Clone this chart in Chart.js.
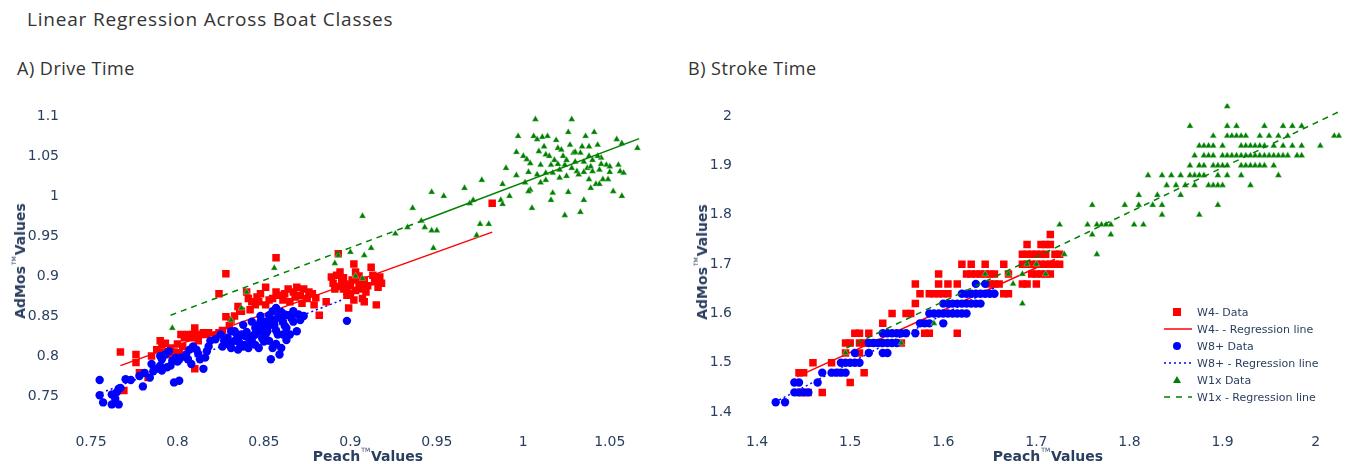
<!DOCTYPE html>
<html>
<head>
<meta charset="utf-8">
<script src="https://cdn.jsdelivr.net/npm/chart.js@4.4.0/dist/chart.umd.min.js"></script>
<style>
body{margin:0;width:1347px;height:464px;background:#fff;position:relative;overflow:hidden;font-family:"DejaVu Sans",sans-serif;color:#2a3f5f}
.abs{position:absolute;white-space:nowrap}
#title{left:27px;top:6px;font-size:19px;letter-spacing:0.8px;font-family:"Open Sans",sans-serif;color:#333}
.sub{top:56px;font-size:18px;letter-spacing:0.5px;font-family:"Open Sans",sans-serif;color:#333}
canvas{position:absolute;top:90px}
.axt{font-weight:bold;font-size:14px;transform:translate(-50%,-50%)}
.axt sup{font-size:6px;font-weight:normal;vertical-align:9px;margin:0 -4px 0 1px}
.yt{transform:translate(-50%,-50%) rotate(-90deg)}
.leg{font-size:11px;height:17px;line-height:17px;left:1163px}
.leg svg{position:absolute;left:0;top:2px}
.leg span{position:absolute;left:34px}
</style>
</head>
<body>
<div class="abs" id="title">Linear Regression Across Boat Classes</div>
<div class="abs sub" style="left:17px">A) Drive Time</div>
<div class="abs sub" style="left:688px">B) Stroke Time</div>

<canvas id="drive" width="670" height="374" style="left:0"></canvas>
<canvas id="stroke" width="677" height="374" style="left:670px"></canvas>

<div class="abs axt" style="left:368px;top:455px">Peach<sup>TM</sup> Values</div>
<div class="abs axt yt" style="left:19px;top:261px">AdMos<sup>TM</sup> Values</div>
<div class="abs axt" style="left:1048px;top:455px">Peach<sup>TM</sup> Values</div>
<div class="abs axt yt" style="left:701px;top:262px">AdMos<sup>TM</sup> Values</div>

<div id="legend"></div>

<script>
// tick labels
var driveXTicks = [0.75, 0.8, 0.85, 0.9, 0.95, 1, 1.05];
var driveYTicks = [0.75, 0.8, 0.85, 0.9, 0.95, 1, 1.05, 1.1];
var strokeXTicks = [1.4, 1.5, 1.6, 1.7, 1.8, 1.9, 2];
var strokeYTicks = [1.4, 1.5, 1.6, 1.7, 1.8, 1.9, 2];

// series names
var seriesNames = ['W4- Data', 'W4- - Regression line', 'W8+ Data', 'W8+ - Regression line', 'W1x Data', 'W1x - Regression line'];

// A) Drive Time - [peach, admos]
var driveW4 = [[0.767,0.805],[0.776,0.802],[0.776,0.792],[0.778,0.779],[0.783,0.773],[0.769,0.757],[0.788,0.808],[0.790,0.819],[0.791,0.814],[0.793,0.816],[0.796,0.810],[0.798,0.798],[0.801,0.804],[0.802,0.827],[0.804,0.823],[0.806,0.827],[0.808,0.823],[0.809,0.827],[0.810,0.835],[0.811,0.825],[0.813,0.827],[0.815,0.829],[0.817,0.827],[0.818,0.829],[0.824,0.829],[0.824,0.878],[0.828,0.903],[0.828,0.849],[0.831,0.845],[0.835,0.862],[0.837,0.856],[0.840,0.880],[0.841,0.872],[0.843,0.868],[0.845,0.864],[0.847,0.868],[0.851,0.886],[0.851,0.864],[0.855,0.872],[0.857,0.923],[0.859,0.876],[0.862,0.878],[0.864,0.884],[0.865,0.868],[0.867,0.880],[0.869,0.886],[0.871,0.876],[0.873,0.884],[0.875,0.872],[0.878,0.878],[0.879,0.864],[0.882,0.851],[0.886,0.868],[0.889,0.899],[0.890,0.891],[0.891,0.884],[0.892,0.901],[0.893,0.928],[0.894,0.905],[0.895,0.893],[0.896,0.884],[0.898,0.876],[0.899,0.860],[0.900,0.888],[0.902,0.915],[0.903,0.905],[0.904,0.897],[0.905,0.888],[0.906,0.884],[0.907,0.872],[0.908,0.868],[0.910,0.888],[0.912,0.911],[0.913,0.901],[0.914,0.893],[0.915,0.864],[0.916,0.886],[0.917,0.899],[0.918,0.891],[0.810,0.784],[0.798,0.805],[0.795,0.802],[0.982,0.991],[0.897,0.890],[0.901,0.895],[0.903,0.882],[0.898,0.880],[0.905,0.900],[0.908,0.895],[0.893,0.887],[0.900,0.878],[0.906,0.892],[0.909,0.880],[0.896,0.898],[0.902,0.870],[0.822,0.826],[0.826,0.832],[0.830,0.838],[0.833,0.850],[0.836,0.857],[0.842,0.858],[0.846,0.874],[0.848,0.878],[0.853,0.870],[0.857,0.880],[0.861,0.870],[0.868,0.874],[0.872,0.866],[0.876,0.880],[0.880,0.873],[0.785,0.800],[0.792,0.805],[0.800,0.815],[0.803,0.812],[0.812,0.819]];
var driveW8 = [[0.755,0.770],[0.755,0.751],[0.757,0.742],[0.762,0.7395],[0.766,0.7395],[0.764,0.7465],[0.765,0.755],[0.767,0.760],[0.770,0.771],[0.766,0.759],[0.780,0.762],[0.781,0.779],[0.784,0.773],[0.786,0.781],[0.788,0.784],[0.790,0.788],[0.791,0.796],[0.793,0.802],[0.795,0.806],[0.796,0.788],[0.798,0.767],[0.801,0.769],[0.791,0.782],[0.794,0.786],[0.797,0.794],[0.799,0.798],[0.802,0.798],[0.805,0.802],[0.807,0.808],[0.808,0.790],[0.809,0.812],[0.811,0.808],[0.813,0.796],[0.815,0.784],[0.817,0.806],[0.818,0.812],[0.819,0.819],[0.822,0.821],[0.831,0.816],[0.831,0.810],[0.833,0.819],[0.835,0.808],[0.837,0.827],[0.839,0.814],[0.841,0.810],[0.843,0.819],[0.845,0.827],[0.847,0.831],[0.849,0.835],[0.851,0.843],[0.853,0.851],[0.855,0.856],[0.857,0.860],[0.859,0.851],[0.861,0.843],[0.863,0.835],[0.865,0.827],[0.867,0.856],[0.869,0.831],[0.851,0.827],[0.853,0.819],[0.855,0.810],[0.854,0.796],[0.859,0.802],[0.860,0.810],[0.847,0.810],[0.841,0.823],[0.838,0.839],[0.843,0.843],[0.845,0.835],[0.848,0.843],[0.850,0.827],[0.852,0.831],[0.856,0.843],[0.858,0.827],[0.861,0.827],[0.864,0.851],[0.867,0.843],[0.871,0.845],[0.898,0.844],[0.845,0.814],[0.836,0.816],[0.839,0.825],[0.825,0.827],[0.831,0.831],[0.833,0.831],[0.829,0.823],[0.827,0.819],[0.835,0.822],[0.840,0.830],[0.844,0.826],[0.846,0.838],[0.849,0.822],[0.852,0.836],[0.854,0.846],[0.856,0.838],[0.858,0.848],[0.860,0.855],[0.862,0.852],[0.857,0.832],[0.850,0.818],[0.842,0.815],[0.838,0.812],[0.862,0.838],[0.866,0.848],[0.870,0.852],[0.873,0.850],[0.826,0.812],[0.829,0.815],[0.834,0.828],[0.848,0.850],[0.853,0.840],[0.863,0.820],[0.857,0.815],[0.790,0.800],[0.800,0.793],[0.806,0.796],[0.812,0.803],[0.816,0.798],[0.785,0.790],[0.778,0.775],[0.773,0.770],[0.762,0.752]];
var driveW1x = [[0.797,0.835],[0.831,0.845],[0.837,0.860],[0.840,0.880],[0.856,0.910],[0.891,0.916],[0.893,0.926],[0.900,0.930],[0.907,0.975],[0.908,0.926],[0.912,0.935],[0.903,0.900],[0.907,0.897],[0.926,0.953],[0.936,0.985],[0.947,1.005],[0.954,1.000],[0.948,0.935],[0.966,1.010],[0.976,1.020],[0.969,0.991],[0.971,0.995],[0.975,0.965],[0.980,0.965],[0.973,0.951],[0.987,0.995],[0.988,0.990],[0.992,1.000],[0.988,1.015],[0.996,1.026],[0.990,1.035],[0.997,1.075],[0.996,1.055],[1.000,1.050],[1.002,1.046],[1.003,1.030],[1.004,1.041],[1.007,1.096],[1.006,1.075],[1.008,1.071],[1.009,1.056],[1.011,1.074],[1.012,1.062],[1.013,1.052],[1.014,1.075],[1.016,1.039],[1.017,1.029],[1.018,1.045],[1.019,1.070],[1.020,1.060],[1.021,1.033],[1.022,1.058],[1.023,1.050],[1.024,1.039],[1.025,1.025],[1.026,1.080],[1.027,1.064],[1.028,1.096],[1.029,1.054],[1.030,1.043],[1.031,1.031],[1.032,1.027],[1.033,1.054],[1.034,1.062],[1.035,1.043],[1.036,1.075],[1.037,1.035],[1.038,1.062],[1.038,1.050],[1.039,1.037],[1.040,1.031],[1.041,1.080],[1.042,1.015],[1.043,1.064],[1.044,1.033],[1.045,1.048],[1.046,1.021],[1.048,1.039],[1.050,1.037],[1.052,1.006],[1.054,1.071],[1.055,1.039],[1.056,1.031],[1.057,1.066],[1.058,1.029],[1.057,1.000],[1.066,1.060],[1.005,0.985],[1.016,0.995],[1.017,1.004],[1.026,1.005],[1.035,0.995],[1.033,0.980],[1.024,0.976],[1.010,1.017],[1.004,1.008],[1.013,1.020],[1.044,1.015],[1.039,1.010],[1.038,1.021],[1.049,1.021],[1.021,1.023],[1.013,1.029],[1.008,1.027],[1.010,1.039],[1.001,1.017],[1.003,1.006],[0.947,0.957],[0.943,0.961],[0.950,0.957],[0.941,0.969],[0.933,0.961],[1.015,1.050],[1.025,1.045],[1.030,1.055],[1.040,1.045],[1.045,1.040],[1.020,1.040],[1.028,1.035],[1.035,1.030],[1.050,1.030],[1.043,1.050]];
var driveW4Fit = [[0.767,0.788],[0.982,0.955]];
var driveW8Fit = [[0.756,0.754],[0.895,0.870]];
var driveW1xFit = [[0.796,0.851],[0.940,0.968],[1.067,1.072]];

// B) Stroke Time - [peach, admos]
var strokeW4 = [[1.445,1.44],[1.45,1.44],[1.455,1.44],[1.47,1.44],[1.50,1.46],[1.445,1.48],[1.45,1.48],[1.515,1.48],[1.46,1.50],[1.48,1.50],[1.495,1.52],[1.51,1.52],[1.495,1.54],[1.50,1.54],[1.51,1.54],[1.515,1.54],[1.52,1.54],[1.53,1.54],[1.555,1.54],[1.505,1.56],[1.51,1.56],[1.52,1.56],[1.58,1.56],[1.585,1.56],[1.615,1.56],[1.535,1.58],[1.545,1.60],[1.56,1.60],[1.565,1.60],[1.57,1.62],[1.575,1.64],[1.585,1.64],[1.59,1.64],[1.595,1.64],[1.60,1.64],[1.605,1.64],[1.665,1.64],[1.67,1.64],[1.57,1.66],[1.595,1.66],[1.605,1.66],[1.615,1.66],[1.65,1.66],[1.655,1.66],[1.66,1.66],[1.685,1.66],[1.69,1.66],[1.70,1.66],[1.595,1.68],[1.625,1.68],[1.63,1.68],[1.635,1.68],[1.64,1.68],[1.645,1.68],[1.65,1.68],[1.655,1.68],[1.67,1.68],[1.695,1.68],[1.70,1.68],[1.705,1.68],[1.71,1.68],[1.715,1.68],[1.62,1.70],[1.63,1.70],[1.645,1.70],[1.665,1.70],[1.685,1.70],[1.69,1.70],[1.695,1.70],[1.70,1.70],[1.705,1.70],[1.71,1.70],[1.715,1.70],[1.72,1.70],[1.725,1.70],[1.685,1.72],[1.69,1.72],[1.695,1.72],[1.70,1.72],[1.705,1.72],[1.71,1.72],[1.72,1.72],[1.725,1.72],[1.69,1.74],[1.705,1.74],[1.71,1.74],[1.715,1.74],[1.715,1.76]];
var strokeW8 = [[1.42,1.42],[1.43,1.42],[1.44,1.44],[1.445,1.44],[1.45,1.44],[1.455,1.44],[1.44,1.46],[1.445,1.46],[1.465,1.46],[1.47,1.48],[1.48,1.48],[1.485,1.48],[1.49,1.48],[1.495,1.48],[1.49,1.50],[1.495,1.50],[1.50,1.50],[1.505,1.50],[1.51,1.50],[1.505,1.52],[1.52,1.52],[1.535,1.52],[1.54,1.52],[1.52,1.54],[1.525,1.54],[1.53,1.54],[1.535,1.54],[1.54,1.54],[1.545,1.54],[1.55,1.54],[1.535,1.56],[1.54,1.56],[1.545,1.56],[1.55,1.56],[1.555,1.56],[1.56,1.56],[1.57,1.56],[1.575,1.58],[1.58,1.58],[1.585,1.58],[1.60,1.58],[1.585,1.60],[1.59,1.60],[1.595,1.60],[1.60,1.60],[1.605,1.60],[1.61,1.60],[1.615,1.60],[1.62,1.60],[1.625,1.60],[1.60,1.62],[1.605,1.62],[1.61,1.62],[1.615,1.62],[1.62,1.62],[1.625,1.62],[1.63,1.62],[1.635,1.62],[1.64,1.62],[1.62,1.64],[1.625,1.64],[1.63,1.64],[1.635,1.64],[1.64,1.64],[1.645,1.64],[1.65,1.64],[1.655,1.64],[1.635,1.66],[1.645,1.66]];
var strokeW1x = [[1.495,1.52],[1.555,1.54],[1.59,1.58],[1.685,1.62],[1.675,1.66],[1.645,1.68],[1.67,1.68],[1.685,1.68],[1.71,1.68],[1.69,1.70],[1.70,1.70],[1.73,1.72],[1.765,1.72],[1.76,1.76],[1.78,1.76],[1.725,1.78],[1.755,1.78],[1.765,1.78],[1.77,1.78],[1.775,1.78],[1.78,1.78],[1.805,1.78],[1.815,1.78],[1.835,1.80],[1.875,1.80],[1.76,1.82],[1.795,1.82],[1.81,1.82],[1.825,1.82],[1.835,1.82],[1.895,1.82],[1.81,1.84],[1.83,1.84],[1.855,1.84],[1.84,1.86],[1.85,1.86],[1.86,1.86],[1.87,1.86],[1.885,1.86],[1.89,1.86],[1.895,1.86],[1.90,1.86],[1.93,1.86],[1.82,1.88],[1.835,1.88],[1.845,1.88],[1.855,1.88],[1.865,1.88],[1.87,1.88],[1.875,1.88],[1.88,1.88],[1.895,1.88],[1.905,1.88],[1.92,1.88],[1.96,1.88],[1.865,1.90],[1.875,1.90],[1.88,1.90],[1.89,1.90],[1.895,1.90],[1.90,1.90],[1.905,1.90],[1.92,1.90],[1.925,1.90],[1.93,1.90],[1.935,1.90],[1.94,1.90],[1.945,1.90],[1.955,1.90],[1.87,1.92],[1.88,1.92],[1.885,1.92],[1.89,1.92],[1.90,1.92],[1.905,1.92],[1.91,1.92],[1.915,1.92],[1.92,1.92],[1.925,1.92],[1.93,1.92],[1.935,1.92],[1.94,1.92],[1.945,1.92],[1.95,1.92],[1.955,1.92],[1.96,1.92],[1.965,1.92],[1.97,1.92],[1.98,1.92],[1.985,1.92],[1.875,1.94],[1.88,1.94],[1.885,1.94],[1.89,1.94],[1.90,1.94],[1.92,1.94],[1.925,1.94],[1.93,1.94],[1.935,1.94],[1.94,1.94],[1.945,1.94],[1.955,1.94],[1.965,1.94],[1.975,1.94],[1.985,1.94],[2.005,1.94],[1.89,1.96],[1.905,1.96],[1.91,1.96],[1.915,1.96],[1.92,1.96],[1.925,1.96],[1.94,1.96],[1.95,1.96],[1.96,1.96],[1.97,1.96],[2.02,1.96],[2.025,1.96],[1.865,1.98],[1.905,1.98],[1.915,1.98],[1.945,1.98],[1.965,1.98],[1.975,1.98],[1.985,1.98],[1.905,2.02]];
var strokeW4Fit = [[1.443,1.472],[1.72,1.71]];
var strokeW8Fit = [[1.419,1.42],[1.657,1.654]];
var strokeW1xFit = [[1.496,1.53],[2.026,2.01]];

var RED = '#ff0000', BLUE = '#0000ff', GREEN = '#008000';
var TICK = '#2a3f5f';

function pts(arr) {
	return arr.map(function(p) { return {x: p[0], y: p[1]}; });
}

function fixed(values) {
	return function(scale) { scale.ticks = values.map(function(v) { return {value: v}; }); };
}

function makeChart(id, data, xr, yr, xt, yt, yWidth, padRight, green) {
	var ctx = document.getElementById(id).getContext('2d');
	return new Chart(ctx, {
		type: 'scatter',
		data: {
			datasets: [
				{label: seriesNames[0], data: pts(data[0]), pointStyle: 'rect', pointRadius: 5.3, backgroundColor: RED, borderColor: RED, borderWidth: 0, order: 5},
				{label: seriesNames[1], data: pts(data[1]), showLine: true, pointRadius: 0, borderColor: RED, borderWidth: 1.5, order: 4},
				{label: seriesNames[2], data: pts(data[2]), pointStyle: 'circle', pointRadius: 4.2, backgroundColor: BLUE, borderColor: BLUE, borderWidth: 0, order: 3},
				{label: seriesNames[3], data: pts(data[3]), showLine: true, pointRadius: 0, borderColor: BLUE, borderWidth: 1.5, borderDash: [2, 3], order: 2},
				{label: seriesNames[4], data: pts(data[4]), pointStyle: 'triangle', pointRadius: 3.8, backgroundColor: GREEN, borderColor: 'rgba(180,220,180,0.8)', borderWidth: 0.5, order: 1},
				{label: seriesNames[5], data: pts(data[5]), showLine: true, pointRadius: 0, borderColor: GREEN, borderWidth: 1.5, borderDash: [6, 5], order: 0, segment: green}
			]
		},
		options: {
			responsive: false,
			animation: false,
			layout: {padding: {top: 10, right: padRight, left: 0, bottom: 0}},
			plugins: {legend: {display: false}, tooltip: {enabled: false}},
			scales: {
				x: {
					type: 'linear', min: xr[0], max: xr[1],
					grid: {display: false}, border: {display: false},
					afterBuildTicks: fixed(xt),
					afterFit: function(s) { s.height = 44; },
					ticks: {color: TICK, padding: 6, maxRotation: 0, font: {family: 'DejaVu Sans', size: 14},
						callback: function(v) { return String(+v.toFixed(3)); }}
				},
				y: {
					type: 'linear', min: yr[0], max: yr[1],
					grid: {display: false}, border: {display: false},
					afterBuildTicks: fixed(yt),
					afterFit: function(s) { s.width = yWidth; },
					ticks: {color: TICK, padding: 5, font: {family: 'DejaVu Sans', size: 14},
						callback: function(v) { return String(+v.toFixed(3)); }}
				}
			}
		}
	});
}

// drive chart: the W1x fit is dashed only on its first part
makeChart('drive', [driveW4, driveW4Fit, driveW8, driveW8Fit, driveW1x, driveW1xFit],
	[0.739, 1.075], [0.72, 1.116], driveXTicks, driveYTicks, 72, 17,
	{borderDash: function(c) { return c.p0DataIndex === 0 ? [6, 5] : []; }});
makeChart('stroke', [strokeW4, strokeW4Fit, strokeW8, strokeW8Fit, strokeW1x, strokeW1xFit],
	[1.387, 2.028], [1.384, 2.026], strokeXTicks, strokeYTicks, 75, 3, undefined);

// legend for the stroke chart
var legendSymbols = [
	'<svg width="30" height="12"><rect x="10" y="2" width="8" height="8" fill="' + RED + '"/></svg>',
	'<svg width="30" height="12"><line x1="1" y1="6" x2="29" y2="6" stroke="' + RED + '" stroke-width="1.5"/></svg>',
	'<svg width="30" height="12"><circle cx="14" cy="6" r="4" fill="' + BLUE + '"/></svg>',
	'<svg width="30" height="12"><line x1="1" y1="6" x2="29" y2="6" stroke="' + BLUE + '" stroke-width="1.5" stroke-dasharray="2 3"/></svg>',
	'<svg width="30" height="12"><polygon points="14,2 18,9 10,9" fill="' + GREEN + '"/></svg>',
	'<svg width="30" height="12"><line x1="1" y1="6" x2="29" y2="6" stroke="' + GREEN + '" stroke-width="1.5" stroke-dasharray="6 6"/></svg>'
];
var legendHtml = '';
for (var i = 0; i < seriesNames.length; i++) {
	legendHtml += '<div class="abs leg" style="top:' + (304 + i * 17) + 'px">' + legendSymbols[i] + '<span>' + seriesNames[i] + '</span></div>';
}
document.getElementById('legend').innerHTML = legendHtml;
</script>
</body>
</html>
